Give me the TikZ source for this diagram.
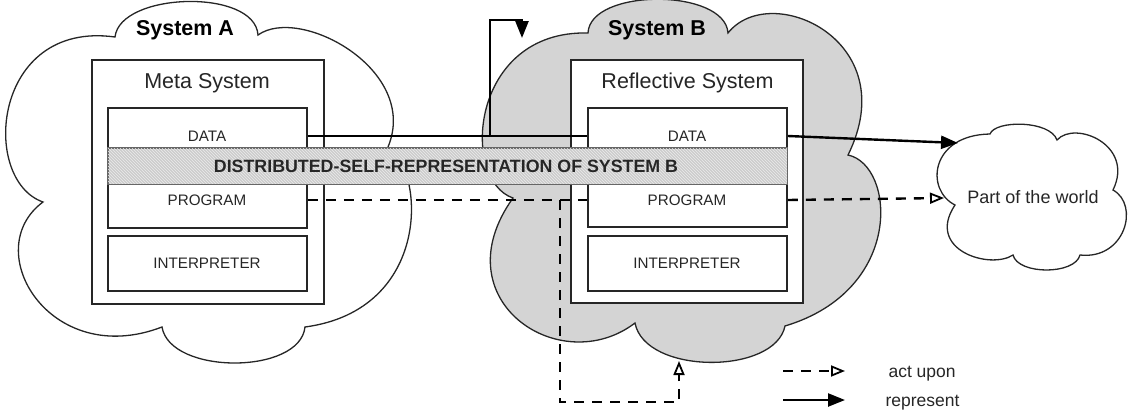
\documentclass[tikz,border=0pt]{standalone}
\usepackage{fontspec}
\setmainfont{Liberation Sans}
\usetikzlibrary{arrows.meta,patterns,calc}
\begin{document}
\begin{tikzpicture}[x=1pt,y=-1pt,
  cloudline/.style={draw=black!85,line width=1.3pt},
  outerbox/.style={draw=black!85,fill=white,line width=1.8pt,inner sep=0pt},
  innerbox/.style={draw=black!85,fill=white,line width=1.8pt,inner sep=0pt,minimum width=199pt},
  lbl/.style={font=\fontsize{15.2}{17}\selectfont,anchor=base,text=black!85},
  title/.style={font=\fontsize{21.5}{24}\selectfont,anchor=base,text=black!85},
  systitle/.style={font=\bfseries\fontsize{21.5}{24}\selectfont,anchor=base},
  legendtext/.style={font=\fontsize{17.5}{20}\selectfont,anchor=base west,text=black!85},
  represent/.style={line width=2.4pt,-{Triangle[length=17pt,width=13pt]}},
  plainline/.style={line width=2.4pt},
  actupon/.style={line width=2.4pt,dash pattern=on 10pt off 8pt,-{Triangle[open,length=14pt,width=11pt,line width=1.8pt]}},
  dashline/.style={line width=2.4pt,dash pattern=on 10pt off 8pt}]
\useasboundingbox (0,0) rectangle (1141,418);

% ---- Cloud A
\path[cloudline,fill=white] (115,37)
  .. controls (120,-8) and (255,-12) .. (258,35)
  .. controls (300,5) and (420,70) .. (388,147)
  .. controls (425,170) and (432,310) .. (305,327)
  .. controls (300,375) and (170,375) .. (162,327)
  .. controls (50,370) and (-22,250) .. (43,202)
  .. controls (-20,180) and (-8,20) .. (115,37) -- cycle;
% ---- Cloud B
\path[cloudline,fill=black!17] (588,33)
  .. controls (590,-12) and (725,-12) .. (728,33)
  .. controls (770,-20) and (905,40) .. (848,155)
  .. controls (895,165) and (905,290) .. (785,326)
  .. controls (775,375) and (645,375) .. (635,323)
  .. controls (560,380) and (440,300) .. (513,198)
  .. controls (460,180) and (470,30) .. (588,33) -- cycle;
% ---- Cloud: part of the world
\path[cloudline,fill=white] (955,205)
  .. controls (925,190) and (930,135) .. (990,134)
  .. controls (995,120) and (1050,120) .. (1057,140)
  .. controls (1075,120) and (1135,145) .. (1113,190)
  .. controls (1140,205) and (1125,260) .. (1080,255)
  .. controls (1075,275) and (1018,275) .. (1013,255)
  .. controls (990,270) and (925,250) .. (955,205) -- cycle;
\node[font=\fontsize{18}{20}\selectfont,text=black!85] (world) at (1033,197) {Part of the world};

\node[systitle] (sysA) at (185,35.5) {System A};
\node[systitle] (sysB) at (657,35.5) {System B};

% ---- Meta system
\node[outerbox,minimum width=232pt,minimum height=244pt] (meta) at (208,182) {};
\node[title] (metaT) at (207,88) {Meta System};
\node[innerbox,minimum height=120pt] (mdp) at (207.5,168) {};
\node[innerbox,minimum height=55pt] (mint) at (207.5,263.5) {};
\node[lbl] (mdata) at (207,141.5) {DATA};
\node[lbl] (mprog) at (207,205) {PROGRAM};
\node[lbl] (minterp) at (207,268) {INTERPRETER};

% ---- Reflective system
\node[outerbox,minimum width=232pt,minimum height=243pt] (refl) at (687,181.5) {};
\node[title] (reflT) at (687.5,88) {Reflective System};
\node[innerbox,minimum height=119pt] (rdp) at (687.5,167.5) {};
\node[innerbox,minimum height=55pt] (rint) at (687.5,263.5) {};
\node[lbl] (rdata) at (687,141.5) {DATA};
\node[lbl] (rprog) at (687,205) {PROGRAM};
\node[lbl] (rinterp) at (687,268) {INTERPRETER};

% ---- connectors
\coordinate (mdE) at ($(mdp.east)+(0,-32)$);
\coordinate (rdW) at ($(rdp.west)+(0,-31.5)$);
\coordinate (rdE) at ($(rdp.east)+(0,-31.5)$);
\coordinate (mpE) at ($(mdp.east)+(0,32)$);
\coordinate (rpW) at ($(rdp.west)+(0,32.5)$);
\coordinate (rpE) at ($(rdp.east)+(0,32.5)$);
\coordinate (branchUp) at (490,136);
\coordinate (topTip) at (522,38);
\coordinate (branchDown) at (560,200);
\coordinate (bottomTip) at (679,361);
\coordinate (worldTop) at (958,143);
\coordinate (worldLeft) at (944,198);

\draw[plainline] (mdE) -- (rdW);
\draw[represent] (branchUp) -- (branchUp |- 0,20) -| (topTip);
\draw[represent] (rdE) -- (worldTop);
\draw[dashline] (mpE) -- (rpW);
\draw[actupon] (rpE) -- (worldLeft);
\draw[actupon] (branchDown) -- (branchDown |- 0,402) -| (bottomTip);

% ---- band
\node[draw=black!60,line width=0.8pt,fill=black!20,minimum width=679pt,minimum height=36pt,inner sep=0pt] (band) at (447.5,166) {};
\fill[pattern=north west lines,pattern color=black!8] (band.north west) rectangle (band.south east);
\draw[black!60,line width=0.8pt] (band.north west) rectangle (band.south east);
\node[font=\bfseries\fontsize{17.8}{20}\selectfont,anchor=base,text=black!85] (bandT) at (446,172.5) {DISTRIBUTED-SELF-REPRESENTATION OF SYSTEM B};

% ---- legend
\coordinate (la1) at (783,371);
\coordinate (la2) at (845,371);
\coordinate (lr1) at (783,400);
\coordinate (lr2) at (845,400);
\draw[actupon] (la1) -- (la2);
\draw[represent] (lr1) -- (lr2);
\node[legendtext] (lact) at (885,377) {act upon};
\node[legendtext] (lrep) at (882,406) {represent};
\end{tikzpicture}
\end{document}
